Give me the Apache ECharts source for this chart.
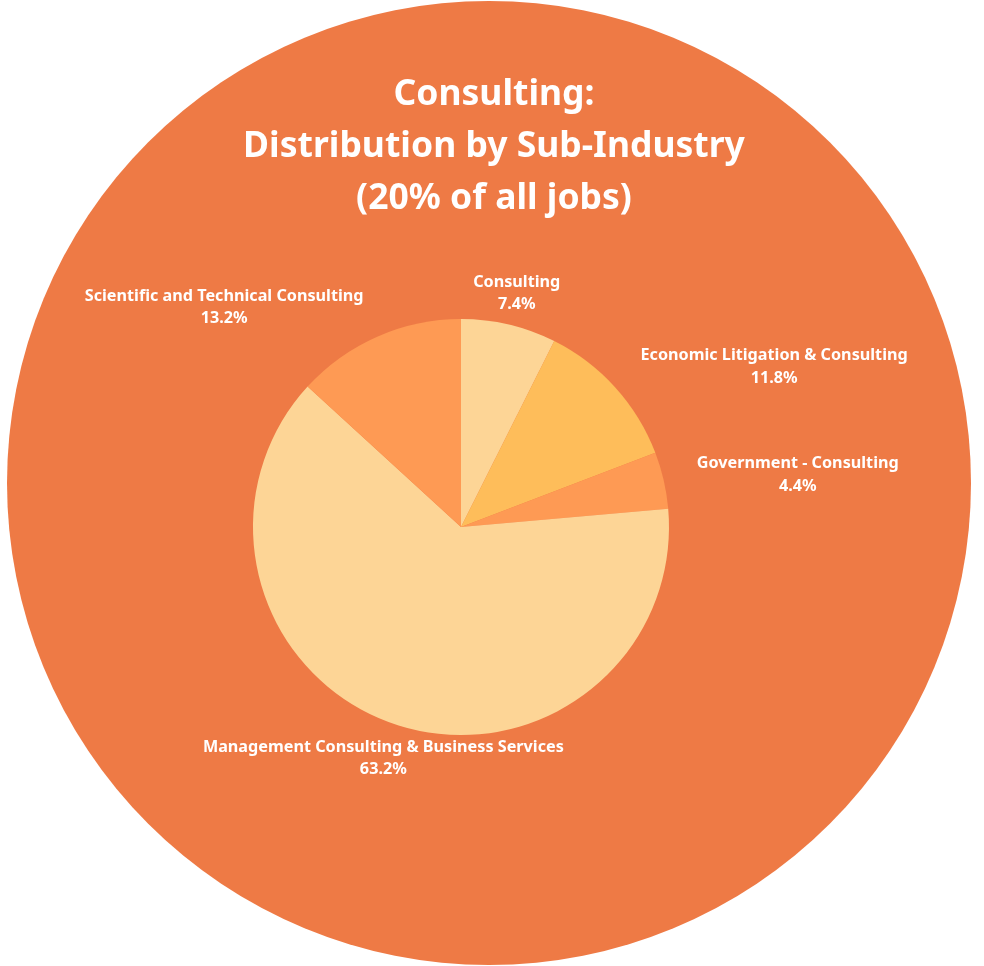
<!DOCTYPE html>
<html>
<head>
<meta charset="utf-8">
<style>html,body{margin:0;padding:0;background:#fff}#c{width:984px;height:966px}</style>
<script src="https://cdn.jsdelivr.net/npm/echarts@6/dist/echarts.min.js"></script>
</head>
<body>
<div id="c"></div>
<script>
const categories = ["Consulting", "Economic Litigation & Consulting", "Government - Consulting", "Management Consulting & Business Services", "Scientific and Technical Consulting"];
const values = [7.4, 11.8, 4.4, 63.2, 13.2];
const sliceColors = ["#FDD596", "#FEBD5A", "#FE9A54", "#FDD596", "#FE9A54"];
const titleLines = ["Consulting:", "Distribution by Sub-Industry", "(20% of all jobs)"];

const FONT = "'Noto Sans', sans-serif";
const CX = 461, CY = 527, R = 208, LABEL_DIST = 242, LABEL_DY = 2;
const total = values.reduce((a, b) => a + b, 0);
const midAngles = [];
let acc = 0;
values.forEach(v => { midAngles.push((acc + v / 2) / total * 2 * Math.PI); acc += v; });

const chart = echarts.init(document.getElementById('c'));
chart.setOption({
  backgroundColor: '#ffffff',
  animation: false,
  graphic: [{
    type: 'circle', z: -10, silent: true,
    shape: { cx: 489, cy: 483, r: 482 },
    style: { fill: '#EE7A45' }
  }],
  title: {
    text: titleLines.join('\n'),
    left: 489, top: 64, textAlign: 'center',
    textStyle: { color: '#ffffff', fontFamily: FONT, fontWeight: 'bold', fontSize: 35.5, lineHeight: 52 }
  },
  series: [{
    type: 'pie',
    center: [CX, CY],
    radius: R,
    startAngle: 90,
    clockwise: true,
    avoidLabelOverlap: false,
    itemStyle: { borderWidth: 0 },
    label: {
      show: true, position: 'outside',
      formatter: p => p.name + '\n' + p.value.toFixed(1) + '%',
      color: '#ffffff', fontFamily: FONT, fontWeight: 'bold', fontSize: 16.2, lineHeight: 22.5,
      align: 'center'
    },
    labelLine: { show: false },
    labelLayout: function (params) {
      const a = midAngles[params.dataIndex];
      const dx = Math.sin(a), dy = -Math.cos(a);
      const ax = CX + LABEL_DIST * dx, ay = CY + LABEL_DIST * dy + LABEL_DY;
      const w = params.labelRect.width;
      let x = ax;
      if (dx > 0.35) x = ax + w / 2;
      else if (dx < -0.35) x = ax - w / 2;
      return { x: x, y: ay, align: 'center', verticalAlign: 'middle' };
    },
    emphasis: { disabled: true },
    data: categories.map((c, i) => ({ name: c, value: values[i], itemStyle: { color: sliceColors[i] } }))
  }]
});
</script>
</body>
</html>
